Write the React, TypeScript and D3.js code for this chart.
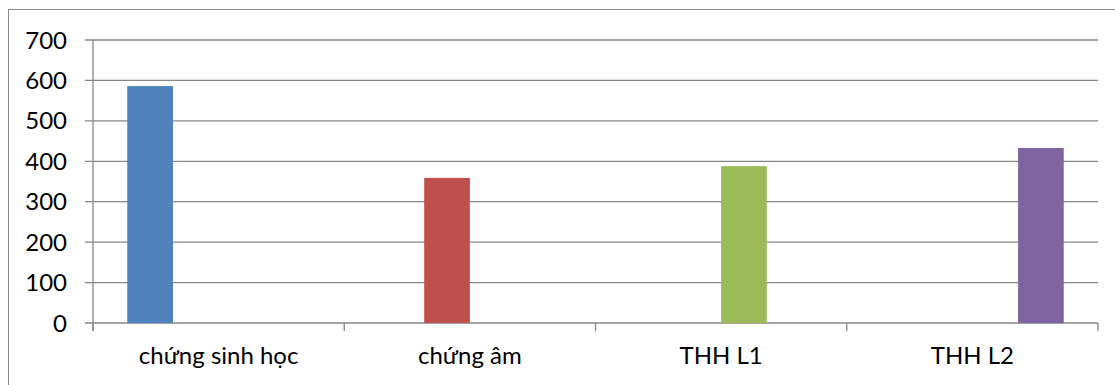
import React from "react";
import * as d3 from "d3";

// Categories along the x axis
const categories = ["chứng sinh học", "chứng âm", "THH L1", "THH L2"];
// One series per category; each series holds a single value in its own category
const seriesKeys = ["s1", "s2", "s3", "s4"];
const seriesValues = [586, 359, 388, 433];
const seriesColors = ["#4F81BD", "#C0504D", "#9BBB59", "#8064A2"];
const yTicks = [0, 100, 200, 300, 400, 500, 600, 700];

const W = 1115;
const H = 385;
const margin = { left: 93, right: 17, top: 40, bottom: 62 };
const FONT = "Lato, 'Open Sans', sans-serif";
const GRID = "#878787";

export default function App() {
  const x0 = d3
    .scaleBand<string>()
    .domain(categories)
    .range([margin.left, W - margin.right])
    .paddingInner(0)
    .paddingOuter(0);

  // clustered bars: gap width 150% => 0.75 bar width on each side
  const x1 = d3
    .scaleBand<string>()
    .domain(seriesKeys)
    .range([0, x0.bandwidth()])
    .paddingInner(0)
    .paddingOuter(0.75);

  const y = d3
    .scaleLinear()
    .domain([0, 700])
    .range([H - margin.bottom, margin.top]);

  const catEdges = [...categories.map((c) => x0(c)!), W - margin.right];

  return (
    <svg
      width={W}
      height={H}
      style={{ position: "absolute", left: 0, top: 0, background: "#fff" }}
    >
      {/* chart frame */}
      <rect
        x={8.5}
        y={9.5}
        width={W}
        height={H}
        fill="none"
        stroke="#8a8a8a"
        strokeWidth={1}
      />

      {/* horizontal gridlines and y tick marks */}
      {yTicks.map((t) => (
        <g key={t}>
          <line
            x1={margin.left - 8}
            x2={W - margin.right}
            y1={y(t)}
            y2={y(t)}
            stroke={GRID}
            strokeWidth={1.3}
          />
          <text
            x={67}
            y={y(t)}
            dy="0.36em"
            textAnchor="end"
            fontFamily={FONT}
            fontSize={24}
            fill="#000"
          >
            {t}
          </text>
        </g>
      ))}

      {/* y axis line */}
      <line
        x1={margin.left}
        x2={margin.left}
        y1={y(700)}
        y2={y(0) + 8}
        stroke={GRID}
        strokeWidth={1.3}
      />

      {/* category tick marks */}
      {catEdges.map((cx, i) => (
        <line
          key={i}
          x1={cx}
          x2={cx}
          y1={y(0)}
          y2={y(0) + 8}
          stroke={GRID}
          strokeWidth={1.3}
        />
      ))}

      {/* bars */}
      {categories.map((c, i) => {
        const key = seriesKeys[i];
        const v = seriesValues[i];
        const bx = x0(c)! + x1(key)!;
        return (
          <rect
            key={c}
            x={bx}
            y={y(v)}
            width={x1.bandwidth()}
            height={y(0) - y(v)}
            fill={seriesColors[i]}
          />
        );
      })}

      {/* category labels */}
      {categories.map((c) => (
        <text
          key={c}
          x={x0(c)! + x0.bandwidth() / 2}
          y={364}
          textAnchor="middle"
          fontFamily={FONT}
          fontSize={24}
          fill="#000"
        >
          {c}
        </text>
      ))}
    </svg>
  );
}
